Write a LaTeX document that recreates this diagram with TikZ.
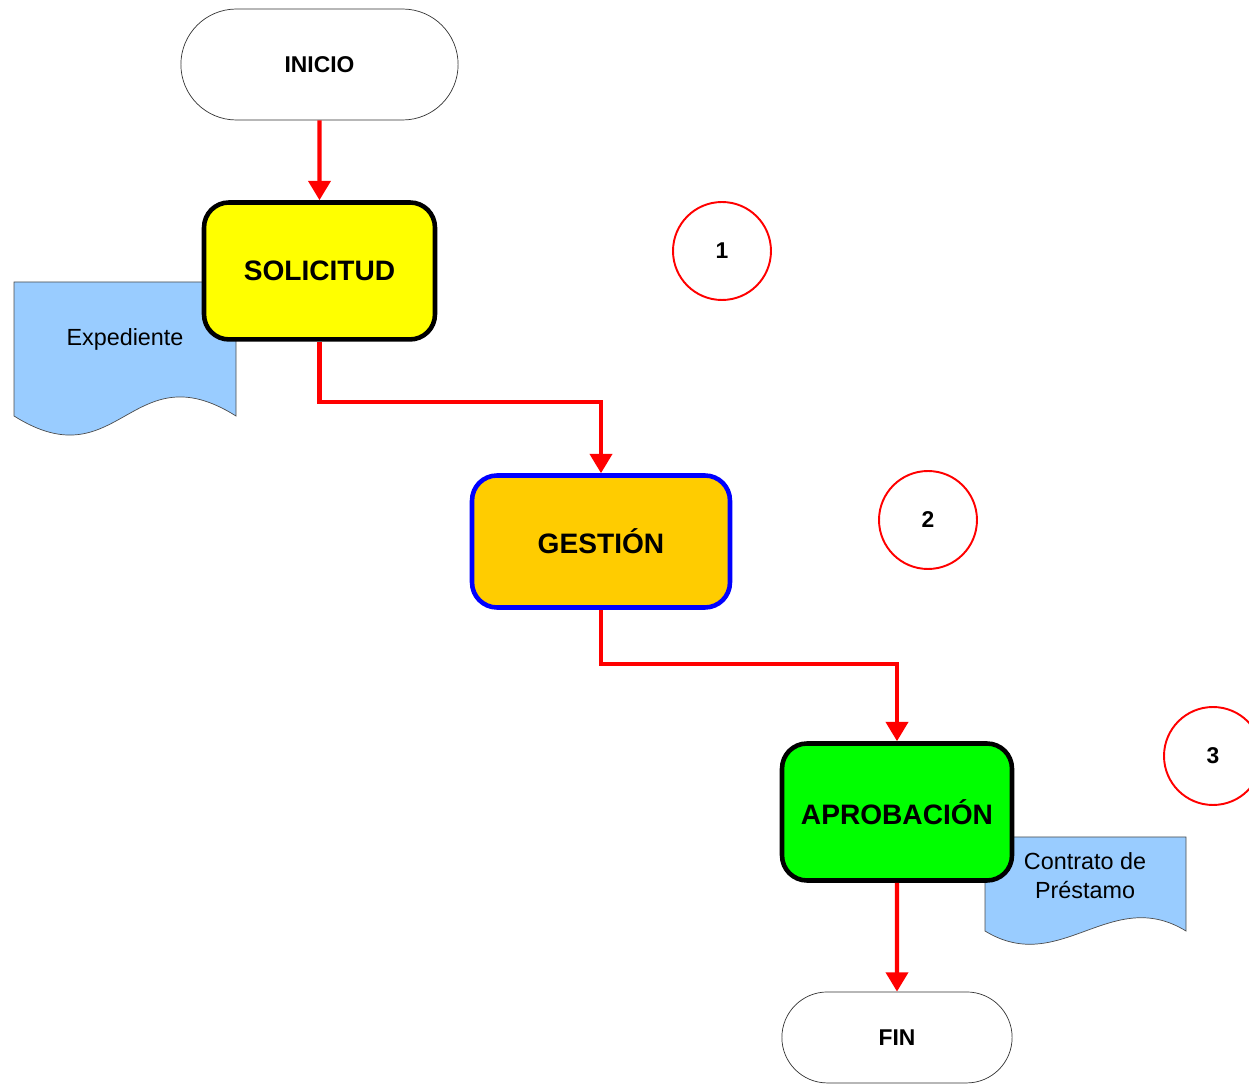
\documentclass[tikz,border=0pt]{standalone}
\usepackage{fontspec}
\setmainfont{Liberation Sans}
\usepackage{tikz}
\usetikzlibrary{arrows.meta, shapes.misc, positioning}
\usepackage{xcolor}
\definecolor{docblue}{HTML}{99CCFF}
\definecolor{solyellow}{HTML}{FFFF00}
\definecolor{gestorange}{HTML}{FFCC00}
\definecolor{aprobgreen}{HTML}{00FF00}
\definecolor{lineared}{HTML}{FF0000}
\tikzset{>={Triangle[length=11pt,width=12.5pt]}}

\begin{document}
\begin{tikzpicture}[x=0.02cm, y=-0.02cm]
                        % px coordinates, y grows downwards
                        \tikzstyle{term}=[rounded rectangle, draw=black!80, thin, fill=white, font=\fontsize{13}{15}\selectfont\bfseries]
                        \tikzstyle{paso}=[rectangle, rounded corners=0.5cm, line width=2.6pt, font=\fontsize{16}{19}\selectfont\bfseries]
                        \tikzstyle{num}=[circle, draw=lineared, line width=1.1pt, minimum size=1.96cm, font=\fontsize{13}{15}\selectfont\bfseries]
                        \tikzstyle{doc}=[draw=black!70, thin, fill=docblue]
                        \tikzstyle{flecha}=[->, lineared, line width=2.3pt]
                        \useasboundingbox (0,0) rectangle (1249,1084);

                        % documents (behind the boxes)
                        \draw[doc] (14,282) -- (236,282) -- (236,416)
                                .. controls (131,350) and (119,482) .. (14,416) -- cycle;
                        \node[font=\fontsize{13.3}{16}\selectfont] (expediente) at (125,339) {Expediente};
                        \draw[doc] (985,837) -- (1186,837) -- (1186,931)
                                .. controls (1111,885) and (1060,977) .. (985,931) -- cycle;
                        \node[font=\fontsize{13.3}{16.4}\selectfont, align=center] (contrato) at (1085,876) {Contrato de\\Préstamo};

                        \node[term, minimum width=5.78cm, minimum height=2.22cm] (inicio) at (319.5,64.5) {INICIO};
                        \node[paso, draw=black, fill=solyellow, minimum width=4.62cm, minimum height=2.74cm] (solicitud) [below of = inicio, node distance=4.13cm] {SOLICITUD};
                        \node[paso, draw=blue, fill=gestorange, minimum width=5.16cm, minimum height=2.64cm] (gestion) at (601,541.5) {GESTIÓN};
                        \node[paso, draw=black, fill=aprobgreen, minimum width=4.6cm, minimum height=2.74cm] (aprobacion) at (897,812) {APROBACIÓN};
                        \node[term, minimum width=4.84cm, minimum height=1.82cm] (fin) [below of = aprobacion, node distance=4.51cm] {FIN};

                        \node[num] (uno) at (722,251) {1};
                        \node[num] (dos) at (928,520) {2};
                        \node[num] (tres) at (1213,756) {3};

                        \draw[flecha] (inicio) -- (solicitud);
                        \draw[flecha] (solicitud.south) -- ++(0,60) -| (gestion.north);
                        \draw[flecha] (gestion.south) -- ++(0,54) -| (aprobacion.north);
                        \draw[flecha] (aprobacion) -- (fin);
\end{tikzpicture}
\end{document}
